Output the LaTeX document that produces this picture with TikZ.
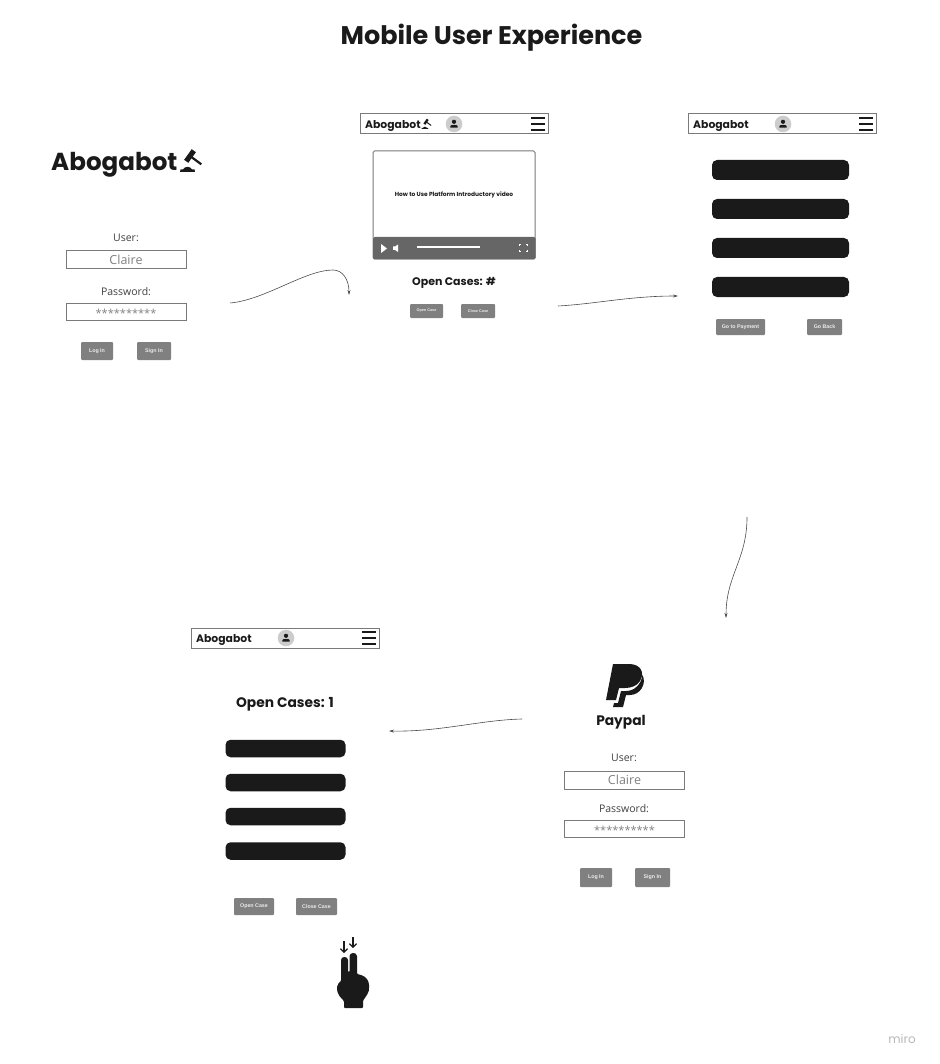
\documentclass[tikz,border=0pt]{standalone}
\usepackage{xcolor}
\usepackage{fontspec}
\setmainfont{Open Sans}
\newfontfamily\headfont{Poppins}
\newfontfamily\btnfont{Liberation Sans}
\usetikzlibrary{positioning,arrows.meta}
\definecolor{inkblk}{HTML}{1A1A1A}
\definecolor{btngray}{HTML}{808080}
\definecolor{barline}{HTML}{7A7A7A}
\tikzset{
    FD1/.style ={rectangle,minimum width = 120pt, minimum height = 18pt, inner sep=0pt, draw=barline, line width=1pt, text=gray, font=\fontsize{12.5}{14}\selectfont},
    ST1/.style ={FD1, minimum height=17pt, text height=12pt, text depth=0pt, font=\fontsize{11}{12}\selectfont},
    LB1/.style ={inner sep=0pt, text=black!75, font=\fontsize{10.5}{12}\selectfont},
    BT1/.style ={rectangle, rounded corners=1pt, inner sep=0pt, fill=btngray, text=white!92!black, font=\btnfont\bfseries\fontsize{5.3}{6}\selectfont},
    BK1/.style ={rectangle, rounded corners=5pt, inner sep=0pt, fill=inkblk},
    NV1/.style ={rectangle, minimum width = 188pt, minimum height = 20pt, inner sep=0pt, draw=barline, line width=1pt},
    LG1/.style ={inner sep=0pt, text=inkblk, font=\headfont\bfseries\fontsize{10.8}{13}\selectfont},
    HD1/.style ={inner sep=0pt, text=inkblk, font=\headfont\bfseries\fontsize{13.8}{15}\selectfont},
    CV1/.style ={draw=black!70, line width=.6pt, -{Stealth[length=5pt,width=3pt]}},
    avatar/.pic={
        \fill[black!20] (0,0) circle (8.3);
        \fill[inkblk] (0,-2.2) circle (2.1);
        \fill[inkblk] (-3.6,3.7) -- (-3.6,2) .. controls (-3.6,.6) and (3.6,.6) .. (3.6,2) -- (3.6,3.7) -- cycle;
    },
    burger/.pic={
        \draw[inkblk,line width=2pt] (-7,-5.6) -- (7,-5.6) (-7,0) -- (7,0) (-7,5.6) -- (7,5.6);
    },
    gavel/.pic={
        \fill[inkblk] (-11,11) -- (-10.5,8.5) -- (-8,8.5) .. controls (-7,5) and (0,5) .. (1,8.5) -- (3.5,8.5) -- (4,11) -- cycle;
        \fill[inkblk] (4.9,-8.8) -- (.7,-11.8) -- (-6.9,-1.2) -- (-2.7,1.8) -- cycle;
        \fill[inkblk] (-.35,-5.9) -- (10.95,2.4) -- (9.65,4.2) -- (-1.65,-4.1) -- cycle;
    }
}
\begin{document}
\begin{tikzpicture}[x=1pt,y=-1pt]
    \useasboundingbox (0,0) rectangle (939,1064);
    \node[inner sep=0pt,text=inkblk,font=\headfont\bfseries\fontsize{25.5}{28}\selectfont] (title) at (491.5,38) {Mobile User Experience};
    % login
    \node[inner sep=0pt,anchor=west,text=inkblk,font=\headfont\bfseries\fontsize{24.6}{28}\selectfont] (logoA) at (51,165) {Abogabot};
    \pic at (191,161) {gavel};
    \node[LB1] (userA) at (126,238) {User:};
    \node[FD1] (fieldA) at (126,260) {Claire};
    \node[LB1] (passA) at (126,292) {Password:};
    \node[ST1] (starA) at (126,311.5) {**********};
    \node[BT1,minimum width=32pt,minimum height=18pt] (logA) at (97,351) {Log In};
    \node[BT1,minimum width=34pt,minimum height=18pt] (signA) at (154,351) {Sign In};
    % video page
    \node[NV1] (navB) at (454,124) {};
    \node[LG1,anchor=west] (logoB) at (365,125.5) {Abogabot};
    \pic[scale=.45] at (426.5,124) {gavel};
    \pic (avaB) at (454,124) {avatar};
    \pic (burB) at (538,124) {burger};
    \node[rectangle,rounded corners=1.5pt,minimum width=162pt,minimum height=108pt,inner sep=0pt,draw=barline,line width=1pt] (video) at (454,205) {};
    \fill[black!60,rounded corners=1.5pt] (373,237) rectangle (535.5,259.5);
    \node[inner sep=0pt,text=inkblk,font=\headfont\bfseries\fontsize{5.9}{7}\selectfont] (videoT) at (454,195) {How to Use Platform Introductory video};
    \fill[white] (381,244) -- (387,248.5) -- (381,253) -- cycle;
    \fill[white] (393,246.5) -- (395,246.5) -- (398,244.5) -- (398,252) -- (395,250) -- (393,250) -- cycle;
    \draw[white,line width=1.2pt] (417,247) -- (480,247);
    \draw[white,line width=.9pt] (519,246) -- (519,244.5) -- (520.5,244.5) (525.5,244.5) -- (527,244.5) -- (527,246) (527,250) -- (527,251.5) -- (525.5,251.5) (520.5,251.5) -- (519,251.5) -- (519,250);
    \node[HD1,font=\headfont\bfseries\fontsize{11}{13}\selectfont] (openB) at (454,282.5) {Open Cases: \#};
    \node[BT1,minimum width=33pt,minimum height=14pt,font=\btnfont\bfseries\fontsize{3.8}{5}\selectfont] (btnOB) at (426.5,311) {Open Case};
    \node[BT1,minimum width=34pt,minimum height=14pt,font=\btnfont\bfseries\fontsize{3.8}{5}\selectfont] (btnCB) at (478,311) {Close Case};
    % case list
    \node[NV1] (navC) at (782,124) {};
    \node[LG1,anchor=west] (logoC) at (693,125.5) {Abogabot};
    \pic (avaC) at (783,124) {avatar};
    \pic (burC) at (866,124) {burger};
    \foreach \yy/\nn in {170/1,209/2,248/3,287/4}{
        \node[BK1,minimum width=137pt,minimum height=20pt] (barC\nn) at (780.5,\yy) {};
    }
    \node[BT1,minimum width=49pt,minimum height=16pt] (payC) at (740.5,327) {Go to Payment};
    \node[BT1,minimum width=35pt,minimum height=16pt] (backC) at (824.5,327) {Go Back};
    % paypal
    \fill[inkblk] (613,664) -- (629,664) .. controls (641,664) and (645,673) .. (640,681) .. controls (637,686) and (631,688) .. (625,688) -- (619,688) -- (616,700) -- (606,700) -- cycle;
    \fill[inkblk] (642.5,675) .. controls (647,684) and (640,695) .. (630,695) -- (626,695) -- (623,707) -- (613,707) -- (614,703) -- (618,703) -- (621,691) -- (626,691) .. controls (634,691) and (641,685) .. (642.5,675) -- cycle;
    \node[HD1] (payT) at (621,722) {Paypal};
    \node[LB1] (userD) at (624,758) {User:};
    \node[FD1] (fieldD) at (624.5,780) {Claire};
    \node[LB1] (passD) at (624,809) {Password:};
    \node[ST1] (starD) at (624.5,828.5) {**********};
    \node[BT1,minimum width=32pt,minimum height=19pt] (logD) at (596,877.5) {Log In};
    \node[BT1,minimum width=35pt,minimum height=19pt] (signD) at (652.5,877.5) {Sign In};
    % open cases
    \node[NV1] (navE) at (285.5,638) {};
    \node[LG1,anchor=west] (logoE) at (196,639.5) {Abogabot};
    \pic (avaE) at (286,638) {avatar};
    \pic (burE) at (369,638) {burger};
    \node[HD1] (openE) at (285,704) {Open Cases: 1};
    \foreach \yy/\nn in {748.5/1,782.5/2,816.5/3,851/4}{
        \node[BK1,minimum width=120pt,minimum height=17.5pt] (barE\nn) at (285.5,\yy) {};
    }
    \node[BT1,minimum width=40pt,minimum height=17pt] (btnOE) at (254,906.5) {Open Case};
    \node[BT1,minimum width=41pt,minimum height=17pt] (btnCE) at (316.5,906.5) {Close Case};
    % hand
    \fill[inkblk,rounded corners=1pt] (344,1008) -- (344,1001) .. controls (341,998) and (337,994) .. (337,988) .. controls (337,984) and (340,982) .. (341,981) -- (341,961) .. controls (341,956) and (348,956) .. (348,961) -- (348,972) -- (349.5,972) -- (349.5,957) .. controls (349.5,952) and (357,952) .. (357,957) -- (357,974) .. controls (362,975) and (368,977) .. (369,985) .. controls (370,993) and (365,997) .. (363,1001) -- (363,1008) -- cycle;
    \coordinate (ar1s) at (344,941);
    \coordinate (ar1e) at (344,953);
    \coordinate (ar2s) at (353,937);
    \coordinate (ar2e) at (353,948);
    \draw[inkblk,line width=1.2pt,-{Straight Barb[length=3.5pt,width=7pt]}] (ar1s) -- (ar1e);
    \draw[inkblk,line width=1.2pt,-{Straight Barb[length=3.5pt,width=7pt]}] (ar2s) -- (ar2e);
    % connectors
    \coordinate (c1s) at (230,303);
    \coordinate (c1e) at (349,295);
    \coordinate (c2s) at (558,306);
    \coordinate (c2e) at (678,296);
    \coordinate (c3s) at (747,517);
    \coordinate (c3e) at (726,618);
    \coordinate (c4s) at (522,719);
    \coordinate (c4e) at (389,731);
    \draw[CV1] (c1s) .. controls (265,300) and (305,270) .. (333,270) .. controls (343,270) and (349,280) .. (c1e);
    \draw[CV1] (c2s) .. controls (595,304) and (630,296) .. (c2e);
    \draw[CV1] (c3s) .. controls (747,560) and (726,575) .. (c3e);
    \draw[CV1] (c4s) .. controls (480,720) and (440,732) .. (c4e);
    \node[inner sep=0pt,text=black!28,font=\headfont\fontsize{12}{14}\selectfont] (miro) at (902,1039) {miro};
\end{tikzpicture}
\end{document}
